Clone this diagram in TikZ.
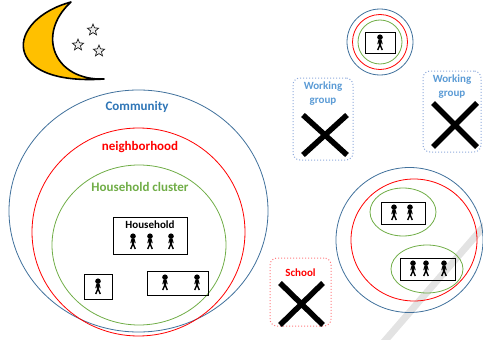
\documentclass[tikz,border=0pt]{standalone}
\usepackage{fontspec}
\setmainfont{Carlito}
\usetikzlibrary{shapes.geometric, positioning}
\definecolor{commblue}{HTML}{41719C}
\definecolor{commtext}{HTML}{2E75B6}
\definecolor{nbred}{HTML}{FF0000}
\definecolor{hcgreen}{HTML}{70AD47}
\definecolor{wgblue}{HTML}{5B9BD5}
\definecolor{wgedge}{HTML}{8FAADC}
\definecolor{schooledge}{HTML}{FF7C80}
\definecolor{moonfill}{HTML}{FFC000}

\tikzset{
  person/.pic={
    \fill (0,-5.8) circle (2.8);
    \draw[line width=2.4pt] (0,-3.4) -- (0,2.2);
    \draw[line width=1pt] (-2.2,1.2) -- (-1.2,-2.6) -- (1.2,-2.6) -- (2.2,1.2);
    \draw[line width=1.4pt] (-2.3,7) -- (0,1.6) -- (2.3,7);
  }
}

\begin{document}
\begin{tikzpicture}[x=1pt, y=-1pt, line width=0.8pt,
    hhbox/.style={draw, line width=1pt, inner sep=0pt},
    groupbox/.style={draw, dotted, rounded corners=7pt, line width=1pt, inner sep=0pt},
    label/.style={font=\bfseries\fontsize{13}{14}\selectfont, align=center},
    smalllabel/.style={font=\bfseries\fontsize{11}{13.5}\selectfont, align=center},
    cross/.style={line width=5.5pt},
    twinkle/.style={star, star points=5, star point ratio=2.3, draw, fill=gray!15,
      line width=0.6pt, minimum size=12pt, inner sep=0pt}]
  \useasboundingbox (0,0) rectangle (483,340);

  % faint stroke across the corner
  \draw[gray!22, line width=7pt] (486,224) -- (383,343);

  % moon and stars
  \draw[fill=moonfill, line width=1.6pt, line join=round]
    (71,2) .. controls (5,20) and (0,86) .. (104,79)
           .. controls (55,81) and (35,35) .. (71,2) -- cycle;
  \node[twinkle] (star1) at (93,30) {};
  \node[twinkle] (star2) at (78,45) {};
  \node[twinkle] (star3) at (99,51) {};

  % community / neighborhood / household cluster
  \draw[commblue] (138.5,211) ellipse (129.5 and 121);
  \draw[nbred] (138.5,232) ellipse (106.5 and 104);
  \draw[hcgreen] (139,245) ellipse (87 and 80);
  \node[label, text=commtext] (community) at (137,107) {Community};
  \node[label, text=nbred] (neighborhood) at (140,147) {neighborhood};
  \node[label, text=hcgreen] (cluster) at (140,187) {Household cluster};

  \node[hhbox, minimum width=74pt, minimum height=37pt] (household) at (150,235.5) {};
  \node[font=\bfseries\fontsize{11}{12}\selectfont, below=1pt of household.north] (hhlabel) {Household};
  \foreach \px in {133,150,171}
    \pic at (\px,242) {person};
  \node[hhbox, minimum width=28pt, minimum height=25pt] (single) at (98,286.5) {};
  \pic at (98,287) {person};
  \node[hhbox, minimum width=61pt, minimum height=24pt] (couple) at (177.5,283) {};
  \foreach \px in {165,197}
    \pic at (\px,283) {person};

  % lone household, top right
  \draw[commblue] (380,42) circle (33);
  \draw[nbred] (380,42) circle (27.5);
  \draw[hcgreen] (380,42) circle (22);
  \node[hhbox, minimum width=30pt, minimum height=21pt] (lone) at (380,42.5) {};
  \pic at (380,43) {person};

  % two clusters, bottom right
  \draw[commblue] (409.5,240) ellipse (73.5 and 72.5);
  \draw[nbred] (414,240) ellipse (63 and 61);
  \draw[hcgreen] (403,212) ellipse (33 and 24);
  \draw[hcgreen] (427,269) ellipse (36 and 24);
  \node[hhbox, minimum width=44pt, minimum height=22pt] (pair) at (403,213) {};
  \foreach \px in {394,410}
    \pic at (\px,213) {person};
  \node[hhbox, minimum width=55pt, minimum height=22pt] (trio) at (427.5,269) {};
  \foreach \px in {413,426,444}
    \pic at (\px,269) {person};

  % working groups and school
  \node[groupbox, draw=wgedge, minimum width=60pt, minimum height=82pt] (work1) at (323,119) {};
  \node[smalllabel, text=wgblue, below=1pt of work1.north] (work1label) {Working\\group};
  \node[groupbox, draw=wgedge, minimum width=58pt, minimum height=81pt] (work2) at (452,111.5) {};
  \node[smalllabel, text=wgblue, below=1pt of work2.north] (work2label) {Working\\group};
  \node[groupbox, draw=schooledge, minimum width=61pt, minimum height=68pt] (school) at (300.5,292) {};
  \node[smalllabel, text=nbred, below=8pt of school.north] (schoollabel) {School};

  \foreach \cx/\cy/\hw/\hh in {325/135/22/20, 455/125/22/22, 301.5/304/21.5/21}
    \draw[cross] (\cx-\hw,\cy-\hh) -- (\cx+\hw,\cy+\hh)
                 (\cx+\hw,\cy-\hh) -- (\cx-\hw,\cy+\hh);
\end{tikzpicture}
\end{document}
